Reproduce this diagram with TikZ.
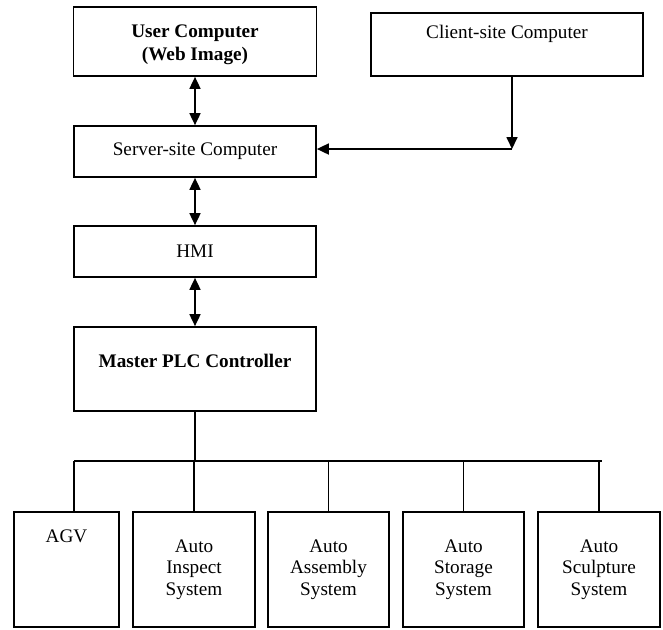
\documentclass[tikz,border=0pt]{standalone}
\usepackage{fontspec}
\setmainfont{Liberation Serif}
\usetikzlibrary{positioning,arrows.meta}

\begin{document}
\begin{tikzpicture}[x=0.5pt, y=-0.5pt, font=\fontsize{9.6}{10.8}\selectfont]
  \tikzset{unit/.style={draw, line width=0.85pt, inner sep=0pt, align=center},
    bold/.style={font=\fontsize{9.6}{11.5}\selectfont\bfseries},
    sys/.style={unit, minimum width=61pt, minimum height=57.5pt},
    txt/.style={inner sep=0pt, anchor=base, align=center},
    duplex/.style={line width=0.85pt, {Triangle[length=6pt,width=5.5pt]}-{Triangle[length=6pt,width=5.5pt]}},
    simplex/.style={line width=0.85pt, -{Triangle[length=6pt,width=5.5pt]}},
    bus/.style={line width=0.85pt}}
  \useasboundingbox (0,0) rectangle (663,629);
  % computers
  \node[unit, minimum width=121.5pt, minimum height=34.5pt] (user) at (195,41.5) {};
  \node[txt, bold, anchor=north] (userT) at ([yshift=-9pt]user.north) {User Computer\\(Web Image)};
  \node[unit, minimum width=136pt, minimum height=31.5pt] (client) at (507,44.5) {};
  \node[txt] (clientT) at ([yshift=-13.25pt]client.north) {Client-site Computer};
  \node[unit, minimum width=121pt, minimum height=25.5pt] (server) at (195,151.5) {Server-site Computer};
  % besturing
  \node[unit, minimum width=121pt, minimum height=25.5pt] (hmi) at (195,251.5) {HMI};
  \node[unit, minimum width=121pt, minimum height=42pt] (master) at (195,369) {};
  \node[txt, bold] (masterT) at ([yshift=-20.75pt]master.north) {Master PLC Controller};
  % stations
  \node[sys, minimum width=52.5pt] (agv) at (66.5,569.5) {};
  \node[txt] (agvT) at ([yshift=-15.75pt]agv.north) {AGV};
  \node[sys] (inspect) at (194,569.5) {Auto\\Inspect\\System};
  \node[sys, minimum width=60.5pt] (assembly) at (328.5,569.5) {Auto\\Assembly\\System};
  \node[sys, minimum width=60.5pt] (storage) at (463.5,569.5) {Auto\\Storage\\System};
  \node[sys] (sculpture) at (599,569.5) {Auto\\Sculpture\\System};
  % verbindingen
  \draw[duplex] (user) -- (server);
  \draw[duplex] (server) -- (hmi);
  \draw[duplex] (hmi) -- (master);
  \coordinate (turn) at (512,149);
  \draw[simplex] (client.south -| turn) -- (turn);
  \draw[simplex] (turn) -- (server.east |- turn);
  % bus
  \coordinate (busL) at (74,461);
  \coordinate (busR) at (602,461);
  \draw[bus] (master.south) -- (master.south |- busL);
  \draw[bus] (busL) -- (busR);
  \draw[bus] (busL) -- (busL |- agv.north);
  \foreach \n in {inspect,assembly,storage,sculpture}
    \draw[bus] (\n.north) -- (\n.north |- busL);
\end{tikzpicture}
\end{document}
